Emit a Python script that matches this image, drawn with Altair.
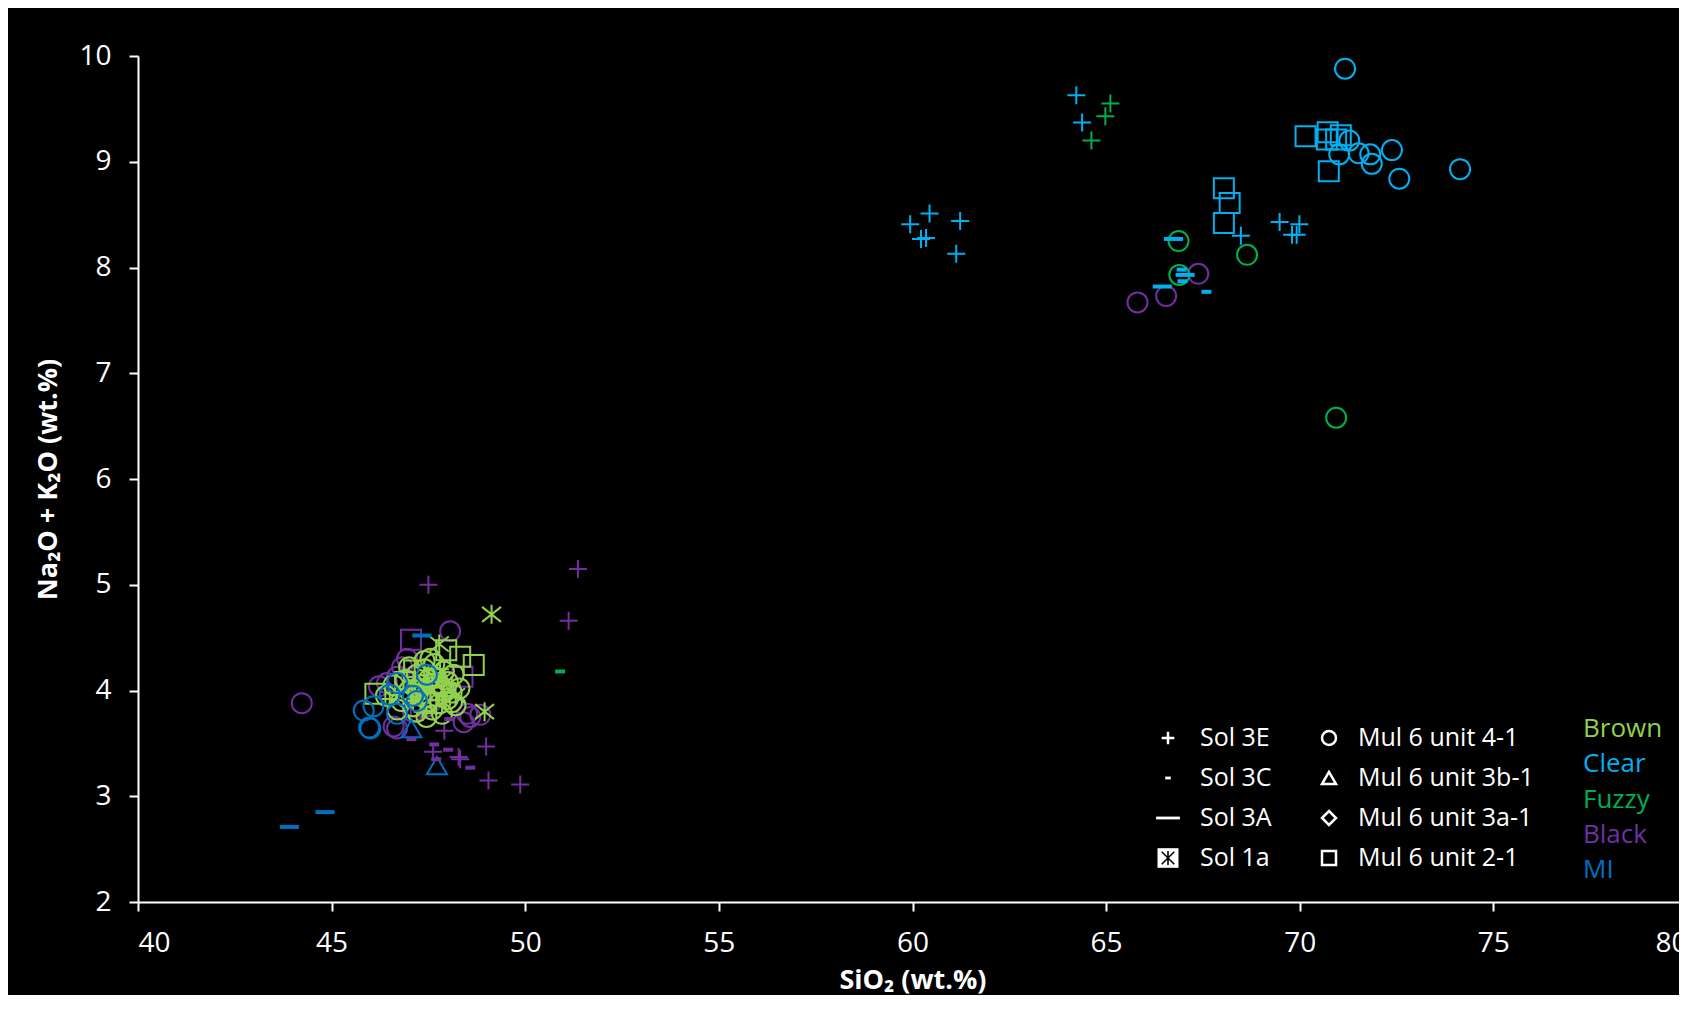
import altair as alt
import pandas as pd

# ---------------- categories / scales ----------------
COLOUR_NAMES = ["Brown", "Clear", "Fuzzy", "Black", "MI"]
COLOUR_HEX = ["#92D050", "#00B0F0", "#00B050", "#7030A0", "#0070C0"]

MARKER_TYPES = ["Sol 3E", "Sol 3C", "Sol 3A", "Sol 1a",
                "Mul 6 unit 4-1", "Mul 6 unit 3b-1", "Mul 6 unit 3a-1", "Mul 6 unit 2-1"]
MARKER_SHAPES = ["M-0.9,0H0.9M0,-0.9V0.9",
                 "M-0.5,-0.2H0.5V0.2H-0.5Z",
                 "M-0.95,-0.2H0.95V0.2H-0.95Z",
                 "M0,-0.95V0.95M-0.95,-0.75L0.95,0.75M-0.95,0.75L0.95,-0.75",
                 "circle", "triangle-up", "diamond", "square"]
DASH_TYPES = ["Sol 3C", "Sol 3A"]

X_TICKS = [40, 45, 50, 55, 60, 65, 70, 75, 80]
Y_TICKS = [2, 3, 4, 5, 6, 7, 8, 9, 10]
X_TITLE = "SiO₂ (wt.%)"
Y_TITLE = "Na₂O + K₂O (wt.%)"

LEGEND_LEFT = ["Sol 3E", "Sol 3C", "Sol 3A", "Sol 1a"]
LEGEND_RIGHT = ["Mul 6 unit 4-1", "Mul 6 unit 3b-1", "Mul 6 unit 3a-1", "Mul 6 unit 2-1"]

# ---------------- data (SiO2, Na2O+K2O) ----------------
CLEAR_3E = [(64.23, 9.63), (64.38, 9.37), (59.94, 8.41), (60.44, 8.51), (61.23, 8.44),
            (60.22, 8.27), (60.35, 8.28), (61.13, 8.13), (68.48, 8.30), (69.48, 8.43),
            (69.80, 8.31), (69.92, 8.31), (69.99, 8.41)]
CLEAR_41 = [(71.17, 9.88), (71.28, 9.20), (71.02, 9.07), (71.52, 9.08), (71.82, 9.07),
            (71.86, 8.98), (72.38, 9.11), (72.57, 8.84), (74.14, 8.93)]
CLEAR_21 = [(70.15, 9.24), (70.72, 9.28), (70.70, 9.21), (70.94, 9.21), (71.06, 9.25),
            (70.75, 8.91), (68.04, 8.75), (68.19, 8.61), (68.04, 8.42)]
CLEAR_3A = [(66.74, 8.27), (67.04, 7.93), (66.45, 7.82)]
CLEAR_3C = [(66.95, 7.98), (66.97, 7.87), (67.59, 7.77)]

FUZZY_3E = [(65.11, 9.55), (64.98, 9.43), (64.62, 9.20)]
FUZZY_41 = [(66.87, 8.25), (66.89, 7.93), (68.64, 8.12), (70.94, 6.58)]
FUZZY_3C = [(50.90, 4.18)]

BLACK_41 = [(65.81, 7.67), (66.55, 7.73), (67.38, 7.94), (44.23, 3.88), (48.06, 4.56),
            (46.43, 4.07), (46.95, 4.30), (46.82, 4.22), (46.69, 3.64), (48.41, 3.70),
            (48.58, 3.75), (48.84, 3.77), (48.50, 3.78), (46.69, 4.13), (46.60, 3.66),
            (46.22, 4.04), (47.10, 3.80), (47.60, 3.90)]
BLACK_3E = [(47.50, 5.00), (51.36, 5.15), (51.12, 4.66), (47.91, 3.62), (48.99, 3.47),
            (47.62, 3.42), (48.32, 3.35), (48.28, 3.37), (49.05, 3.15), (49.87, 3.11)]
BLACK_3C = [(47.06, 3.54), (47.65, 3.49), (48.01, 3.44), (47.70, 3.35), (48.58, 3.27),
            (48.04, 3.73)]
BLACK_21 = [(47.05, 4.48), (48.38, 4.13), (47.30, 3.85)]

MI_3A = [(43.91, 2.71), (44.83, 2.85), (47.33, 4.52)]
MI_3B = [(47.06, 3.64), (47.72, 3.29)]
MI_41 = [(45.83, 3.81), (45.97, 3.65), (46.00, 3.64), (46.08, 3.85), (46.50, 3.96),
         (46.69, 4.07), (46.69, 3.78), (47.10, 3.95), (47.20, 3.90), (47.46, 4.15)]

BROWN_41 = [(46.40, 3.95), (46.60, 4.05), (46.80, 3.90), (46.90, 4.10), (47.00, 4.00),
            (47.10, 3.85), (47.20, 4.15), (47.30, 3.95), (47.30, 4.05), (47.40, 4.20),
            (47.50, 3.90), (47.50, 4.10), (47.60, 4.00), (47.60, 3.82), (47.70, 4.12),
            (47.70, 3.95), (47.80, 4.05), (47.80, 3.88), (47.90, 4.00), (47.90, 4.18),
            (48.00, 3.92), (48.00, 4.08), (48.10, 3.98), (48.20, 3.86), (47.40, 4.28),
            (47.20, 3.80), (46.70, 3.82), (47.00, 4.22), (48.30, 4.02), (47.45, 3.75),
            (46.95, 3.93), (47.65, 4.25), (48.15, 4.15), (47.85, 3.78), (48.11, 3.89),
            (47.55, 4.30), (47.25, 4.00)]
BROWN_3E = [(46.50, 3.92), (47.10, 3.90), (47.30, 4.00), (47.50, 4.15), (47.60, 4.08),
            (47.70, 3.85), (47.90, 3.95), (48.10, 4.05), (47.35, 3.80), (47.80, 4.20)]
BROWN_1A = [(49.13, 4.72), (47.78, 4.44), (48.95, 3.80), (47.85, 4.10), (48.20, 3.95),
            (47.45, 4.05)]
BROWN_21 = [(46.13, 3.97), (47.96, 4.38), (48.32, 4.32), (48.67, 4.24), (47.13, 4.19),
            (46.90, 4.08), (47.60, 3.88)]
BROWN_3AD = [(47.20, 4.05), (47.80, 4.00)]

SERIES = [
    ("Black", "Mul 6 unit 4-1", BLACK_41), ("Black", "Sol 3E", BLACK_3E),
    ("Black", "Sol 3C", BLACK_3C), ("Black", "Mul 6 unit 2-1", BLACK_21),
    ("Brown", "Mul 6 unit 4-1", BROWN_41), ("Brown", "Sol 3E", BROWN_3E),
    ("Brown", "Mul 6 unit 2-1", BROWN_21), ("Brown", "Mul 6 unit 3a-1", BROWN_3AD),
    ("Brown", "Sol 1a", BROWN_1A),
    ("MI", "Mul 6 unit 4-1", MI_41), ("MI", "Mul 6 unit 3b-1", MI_3B), ("MI", "Sol 3A", MI_3A),
    ("Clear", "Sol 3E", CLEAR_3E), ("Clear", "Mul 6 unit 4-1", CLEAR_41),
    ("Clear", "Mul 6 unit 2-1", CLEAR_21), ("Clear", "Sol 3A", CLEAR_3A),
    ("Clear", "Sol 3C", CLEAR_3C),
    ("Fuzzy", "Sol 3E", FUZZY_3E), ("Fuzzy", "Mul 6 unit 4-1", FUZZY_41),
    ("Fuzzy", "Sol 3C", FUZZY_3C),
]

records = []
for colour, mtype, pts in SERIES:
    for x, y in pts:
        records.append({"SiO2": x, "Alk": y, "Colour": colour, "Type": mtype})
df = pd.DataFrame(records)
df["order"] = range(len(df))
df_outline = df[~df["Type"].isin(DASH_TYPES)]
df_dash = df[df["Type"].isin(DASH_TYPES)]

# ---------------- layout ----------------
RANGE_W = 1549          # pixel length of the 40..80 axis (runs past the picture edge)
W, H = 1541, 846        # visible plot area
X_DOMAIN = [40, 80]
Y_DOMAIN = [2, 10]
FONT = "Open Sans"


def px_x(p):
    return X_DOMAIN[0] + p / RANGE_W * (X_DOMAIN[1] - X_DOMAIN[0])


def px_y(p):
    return Y_DOMAIN[1] - p / H * (Y_DOMAIN[1] - Y_DOMAIN[0])


colour_scale = alt.Scale(domain=COLOUR_NAMES, range=COLOUR_HEX)
shape_scale = alt.Scale(domain=MARKER_TYPES, range=MARKER_SHAPES)

x_enc = alt.X("SiO2:Q",
              scale=alt.Scale(domain=X_DOMAIN, range=[0, RANGE_W], nice=False, zero=False),
              axis=alt.Axis(values=X_TICKS, title=X_TITLE, format="d",
                            titleX=RANGE_W / 2, titleY=78, titleAlign="center",
                            titleBaseline="middle", labelPadding=18))
y_enc = alt.Y("Alk:Q",
              scale=alt.Scale(domain=Y_DOMAIN, nice=False, zero=False),
              axis=alt.Axis(values=Y_TICKS, title=Y_TITLE, format="d",
                            titleAngle=270, titleX=-90, titleY=H / 2,
                            titleAlign="center", titleBaseline="middle",
                            labelPadding=18))

outline = alt.Chart(df_outline).mark_point(filled=False, size=400, strokeWidth=2, opacity=1).encode(
    x=x_enc, y=y_enc,
    stroke=alt.Stroke("Colour:N", scale=colour_scale, legend=None),
    shape=alt.Shape("Type:N", scale=shape_scale, legend=None),
    order=alt.Order("order:Q"),
)
dashes = alt.Chart(df_dash).mark_point(filled=True, size=400, strokeWidth=0, opacity=1).encode(
    x=x_enc, y=y_enc,
    fill=alt.Fill("Colour:N", scale=colour_scale, legend=None),
    shape=alt.Shape("Type:N", scale=shape_scale, legend=None),
    order=alt.Order("order:Q"),
)

# ---------------- hand-made legend ----------------
ROW0, ROW_STEP = 682, 40
COL1_SYM, COL1_TXT, COL2_SYM, COL2_TXT = 1030, 1062, 1191, 1220
CW_X, CW_Y0, CW_STEP = 1445, 673, 35.3

LEG_OUTLINE_SHAPES = {"Sol 3E": "M-0.9,0H0.9M0,-0.9V0.9",
                      "Mul 6 unit 4-1": "circle", "Mul 6 unit 3b-1": "triangle-up",
                      "Mul 6 unit 3a-1": "diamond", "Mul 6 unit 2-1": "square"}
LEG_FILLED_SHAPES = {"Sol 3C": "M-0.4,-0.2H0.4V0.2H-0.4Z",
                     "Sol 3A": "M-1.7,-0.2H1.7V0.2H-1.7Z",
                     "Sol 1a": "M-1.5,-1.4H1.5V1.4H-1.5Z"}

leg_text, leg_out, leg_fill, leg_star = [], [], [], []
for i, lab in enumerate(LEGEND_LEFT):
    yy = px_y(ROW0 + i * ROW_STEP)
    leg_text.append({"SiO2": px_x(COL1_TXT), "Alk": yy, "label": lab})
    if lab in LEG_OUTLINE_SHAPES:
        leg_out.append({"SiO2": px_x(COL1_SYM), "Alk": yy, "shape": LEG_OUTLINE_SHAPES[lab]})
    else:
        leg_fill.append({"SiO2": px_x(COL1_SYM), "Alk": yy, "shape": LEG_FILLED_SHAPES[lab]})
    if lab == "Sol 1a":
        leg_star.append({"SiO2": px_x(COL1_SYM), "Alk": yy})
for i, lab in enumerate(LEGEND_RIGHT):
    yy = px_y(ROW0 + i * ROW_STEP)
    leg_text.append({"SiO2": px_x(COL2_TXT), "Alk": yy, "label": lab})
    leg_out.append({"SiO2": px_x(COL2_SYM), "Alk": yy, "shape": LEG_OUTLINE_SHAPES[lab]})
leg_colour = [{"SiO2": px_x(CW_X), "Alk": px_y(CW_Y0 + i * CW_STEP), "Colour": c}
              for i, c in enumerate(COLOUR_NAMES)]

legend_text = alt.Chart(pd.DataFrame(leg_text)).mark_text(
    align="left", baseline="middle", font=FONT, fontSize=25, color="white").encode(
    x=x_enc, y=y_enc, text="label:N")
legend_out = alt.Chart(pd.DataFrame(leg_out)).mark_point(
    filled=False, size=196, strokeWidth=2.5, color="white", opacity=1).encode(
    x=x_enc, y=y_enc, shape=alt.Shape("shape:N", scale=None, legend=None))
legend_fill = alt.Chart(pd.DataFrame(leg_fill)).mark_point(
    filled=True, size=196, strokeWidth=0, color="white", opacity=1).encode(
    x=x_enc, y=y_enc, shape=alt.Shape("shape:N", scale=None, legend=None))
legend_star = alt.Chart(pd.DataFrame(leg_star)).mark_point(
    filled=False, size=196, strokeWidth=1.6, color="black", opacity=1,
    shape="M0,-1V1M-0.9,-0.9L0.9,0.9M-0.9,0.9L0.9,-0.9").encode(x=x_enc, y=y_enc)
legend_colour = alt.Chart(pd.DataFrame(leg_colour)).mark_text(
    align="left", baseline="middle", font=FONT, fontSize=26).encode(
    x=x_enc, y=y_enc, text="Colour:N",
    color=alt.Color("Colour:N", scale=colour_scale, legend=None))

chart = alt.layer(
    outline, dashes, legend_text, legend_out, legend_fill, legend_star, legend_colour
).resolve_scale(
    shape="independent"
).properties(
    width=W, height=H,
    padding={"left": 130, "top": 48, "right": 0, "bottom": 93},
    autosize=alt.AutoSizeParams(type="none"),
    background="black",
).configure_view(
    strokeWidth=0
).configure_axis(
    grid=False,
    domainColor="white", domainWidth=2,
    tickColor="white", tickWidth=2, tickSize=9,
    labelColor="white", labelFont=FONT, labelFontSize=28,
    titleColor="white", titleFont=FONT, titleFontSize=27, titleFontWeight="bold",
)

chart.save("out.html", embed_options={"renderer": "svg", "actions": False})
